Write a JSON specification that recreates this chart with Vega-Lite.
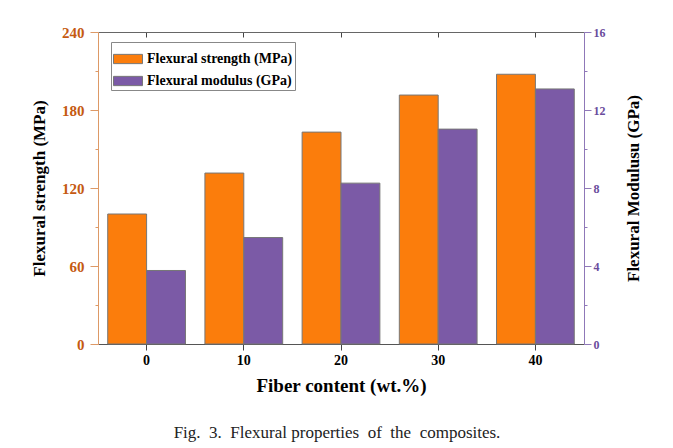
{
  "$schema": "https://vega.github.io/schema/vega-lite/v6.json",
  "width": 486,
  "height": 312,
  "autosize": {"type": "none"},
  "padding": {"left": 98, "top": 32, "right": 89, "bottom": 104},
  "background": "white",
  "config": {"view": {"stroke": null}, "font": "Liberation Serif"},
  "title": {
    "text": "Fig.\u00a0 3.\u00a0 Flexural properties\u00a0 of\u00a0 the\u00a0 composites.",
    "orient": "bottom",
    "anchor": "middle",
    "offset": 30,
    "font": "Liberation Serif",
    "fontSize": 17,
    "fontWeight": "normal",
    "color": "#222222",
    "dx": -4
  },
  "data": {
    "values": [
      {"fiber": "0", "series": "Flexural strength (MPa)", "value": 100},
      {"fiber": "10", "series": "Flexural strength (MPa)", "value": 131.5},
      {"fiber": "20", "series": "Flexural strength (MPa)", "value": 163},
      {"fiber": "30", "series": "Flexural strength (MPa)", "value": 191.5},
      {"fiber": "40", "series": "Flexural strength (MPa)", "value": 207.5},
      {"fiber": "0", "series": "Flexural modulus (GPa)", "value": 3.77},
      {"fiber": "10", "series": "Flexural modulus (GPa)", "value": 5.46},
      {"fiber": "20", "series": "Flexural modulus (GPa)", "value": 8.25},
      {"fiber": "30", "series": "Flexural modulus (GPa)", "value": 11.02},
      {"fiber": "40", "series": "Flexural modulus (GPa)", "value": 13.08}
    ]
  },
  "layer": [
    {
      "transform": [{"filter": "datum.series === 'Flexural strength (MPa)'"}],
      "mark": {"type": "bar", "stroke": "#777777", "strokeWidth": 1},
      "encoding": {
        "x": {
          "field": "fiber", "type": "ordinal",
          "scale": {"domain": ["0", "10", "20", "30", "40"], "paddingInner": 0.2, "paddingOuter": 0.1},
          "axis": {
            "orient": "bottom", "title": "Fiber content (wt.%)", "labelAngle": 0,
            "domainColor": "#555555", "tickColor": "#444444", "tickSize": 6,
            "labelFont": "Liberation Serif", "labelFontWeight": "bold", "labelFontSize": 14, "labelColor": "black", "labelPadding": 3,
            "titleFont": "Liberation Serif", "titleFontWeight": "bold", "titleFontSize": 19, "titleColor": "black", "titlePadding": 9
          }
        },
        "xOffset": {"field": "series", "scale": {"domain": ["Flexural strength (MPa)", "Flexural modulus (GPa)"], "paddingInner": 0, "paddingOuter": 0}},
        "y": {
          "field": "value", "type": "quantitative",
          "scale": {"domain": [0, 240], "nice": false},
          "axis": {
            "orient": "left", "title": "Flexural strength (MPa)", "grid": false,
            "values": [0, 30, 60, 90, 120, 150, 180, 210, 240],
            "labelExpr": "datum.value % 60 === 0 ? datum.label : ''",
            "tickSize": {"condition": {"test": "datum.value % 60 === 0", "value": 8}, "value": 3},
            "domainColor": "#dd9966", "tickColor": "#dd9966",
            "labelColor": "#c55a11", "labelFont": "Liberation Serif", "labelFontWeight": "bold", "labelFontSize": 15, "labelPadding": 6,
            "titleFont": "Liberation Serif", "titleFontWeight": "bold", "titleFontSize": 17, "titleColor": "black", "titlePadding": 13
          }
        },
        "color": {
          "field": "series", "type": "nominal",
          "scale": {"domain": ["Flexural strength (MPa)", "Flexural modulus (GPa)"], "range": ["#fb7d0c", "#7b5aa6"]},
          "legend": {
            "title": null, "orient": "none", "legendX": 13, "legendY": 10, "direction": "vertical",
            "symbolType": "M-1,-0.32H1V0.32H-1Z", "symbolSize": 841,
            "symbolStrokeColor": "#777777", "symbolStrokeWidth": 1, "symbolOpacity": 1,
            "labelFont": "Liberation Serif", "labelFontWeight": "bold", "labelFontSize": 14, "labelColor": "black",
            "labelOffset": 4, "labelLimit": 300, "rowPadding": 0,
            "strokeColor": "#888888", "fillColor": "white", "padding": 2
          }
        }
      }
    },
    {
      "transform": [{"filter": "datum.series === 'Flexural modulus (GPa)'"}],
      "mark": {"type": "bar", "stroke": "#777777", "strokeWidth": 1},
      "encoding": {
        "x": {
          "field": "fiber", "type": "ordinal",
          "axis": {"orient": "top", "title": null, "labels": false, "domainColor": "#666666", "tickColor": "#444444", "tickSize": -5}
        },
        "xOffset": {"field": "series"},
        "y": {
          "field": "value", "type": "quantitative",
          "scale": {"domain": [0, 16], "nice": false},
          "axis": {
            "orient": "right", "title": "Flexural Modulusu (GPa)", "grid": false,
            "values": [0, 2, 4, 6, 8, 10, 12, 14, 16],
            "labelExpr": "datum.value % 4 === 0 ? datum.label : ''",
            "tickSize": {"condition": {"test": "datum.value % 4 === 0", "value": 7}, "value": 3},
            "domainColor": "#8f78b8", "tickColor": "#8f78b8",
            "labelColor": "#6a4c9c", "labelFont": "Liberation Serif", "labelFontWeight": "bold", "labelFontSize": 12, "labelPadding": 2,
            "titleFont": "Liberation Serif", "titleFontWeight": "bold", "titleFontSize": 17, "titleColor": "black", "titlePadding": 37, "titleAngle": 270
          }
        },
        "color": {"field": "series", "type": "nominal"}
      }
    }
  ],
  "resolve": {"scale": {"y": "independent"}, "axis": {"x": "independent"}}
}
